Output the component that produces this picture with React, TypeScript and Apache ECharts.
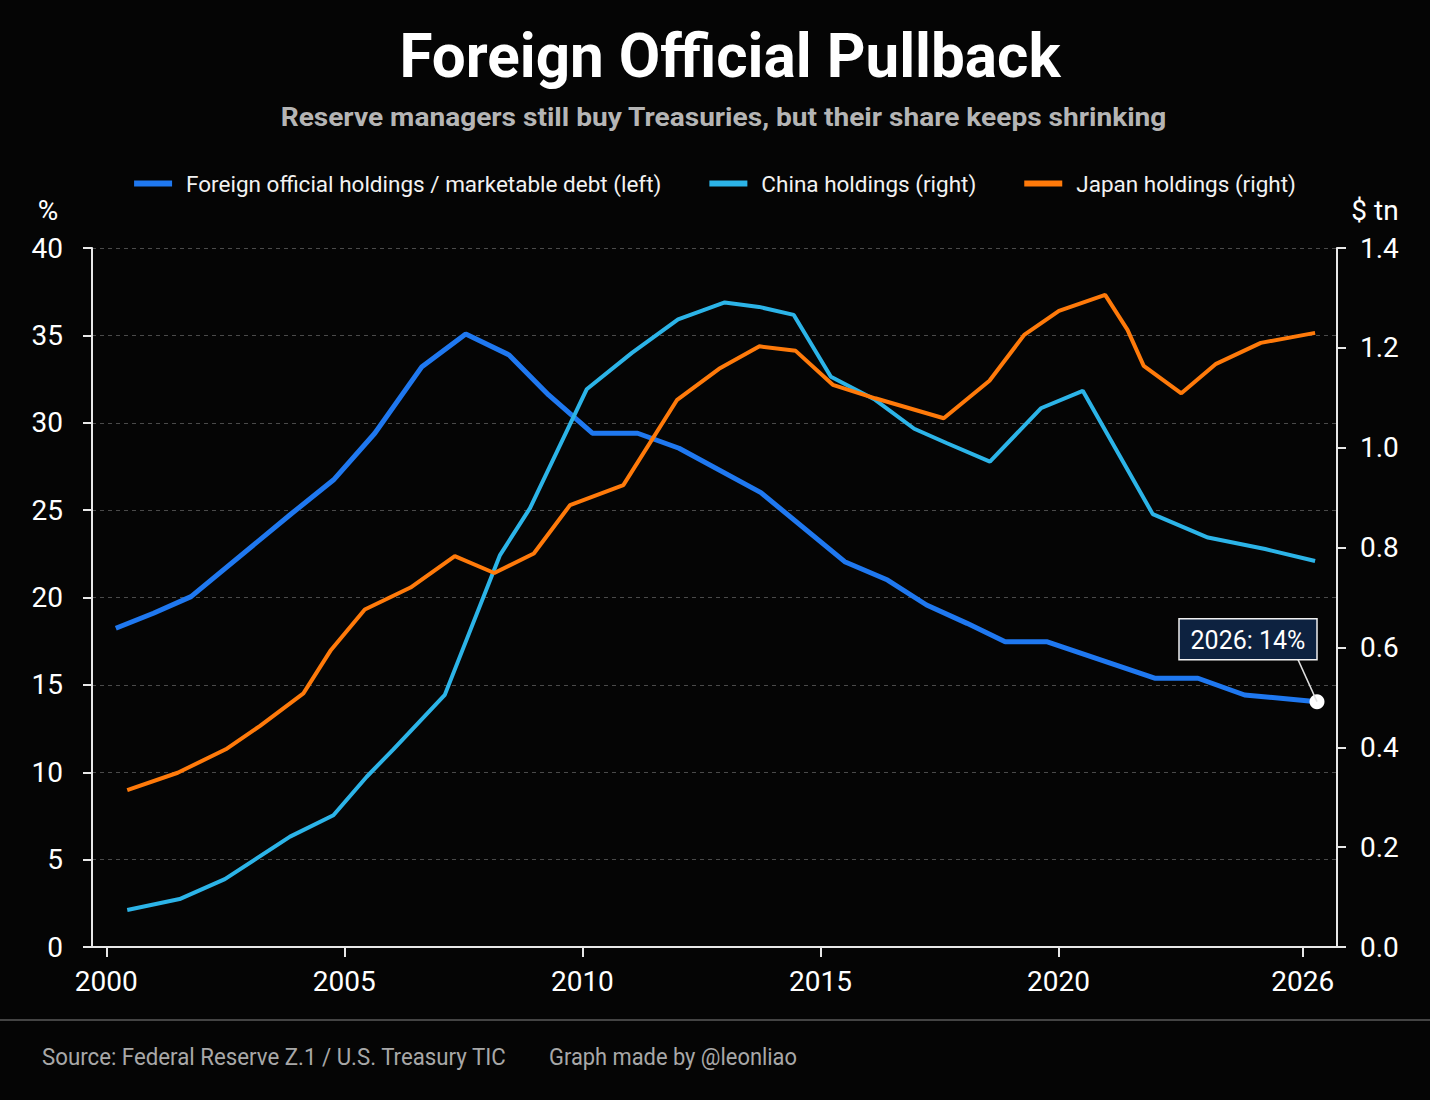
import { useEffect, useRef } from 'react';
import * as echarts from 'echarts';

const FONT = 'Roboto, "Noto Sans", sans-serif';

// Foreign official holdings / marketable debt, % (left axis)
const shareYears = [
  2000.2, 2000.99, 2001.78, 2003.9, 2004.77, 2005.64, 2006.63, 2007.55, 2008.46, 2009.29,
  2010.21, 2011.16, 2012.03, 2013.75, 2015.51, 2016.41, 2017.23, 2018.08, 2018.88, 2019.75,
  2022.02, 2022.93, 2023.91, 2025.43,
];
const shareValues = [
  18.24, 19.1, 20.05, 24.82, 26.72, 29.4, 33.21, 35.08, 33.88, 31.59,
  29.4, 29.4, 28.54, 26.0, 22.05, 21.0, 19.57, 18.52, 17.47, 17.47,
  15.38, 15.38, 14.42, 14.04,
];

// China holdings, $ tn (right axis)
const chinaYears = [
  2000.44, 2001.54, 2002.49, 2003.86, 2004.77, 2005.47, 2006.03, 2007.11, 2008.27, 2008.9,
  2010.09, 2011.04, 2012.01, 2012.99, 2013.71, 2014.44, 2015.22, 2016.15, 2016.97, 2017.66,
  2018.56, 2019.63, 2020.51, 2021.98, 2023.14, 2024.34, 2025.39,
];
const chinaValues = [
  0.074, 0.096, 0.136, 0.221, 0.264, 0.341, 0.396, 0.505, 0.785, 0.879,
  1.117, 1.19, 1.257, 1.291, 1.282, 1.266, 1.142, 1.096, 1.038, 1.009,
  0.972, 1.079, 1.114, 0.867, 0.82, 0.797, 0.773,
];

// Japan holdings, $ tn (right axis)
const japanYears = [
  2000.44, 2001.5, 2002.51, 2003.23, 2004.14, 2004.72, 2005.43, 2006.39, 2007.32, 2008.15,
  2008.98, 2009.74, 2010.86, 2011.99, 2012.87, 2013.72, 2014.48, 2015.26, 2016.15, 2017.59,
  2018.55, 2019.28, 2020.01, 2020.98, 2021.45, 2021.79, 2022.58, 2023.31, 2024.25, 2025.39,
];
const japanValues = [
  0.314, 0.349, 0.396, 0.443, 0.508, 0.595, 0.676, 0.72, 0.783, 0.749,
  0.788, 0.885, 0.925, 1.096, 1.158, 1.203, 1.194, 1.126, 1.099, 1.059,
  1.134, 1.226, 1.274, 1.306, 1.236, 1.164, 1.109, 1.168, 1.21, 1.23,
];

const xTickYears = [2000, 2005, 2010, 2015, 2020, 2025.13];
const xTickLabels = ['2000', '2005', '2010', '2015', '2020', '2026'];

const seriesNames = [
  'Foreign official holdings / marketable debt (left)',
  'China holdings (right)',
  'Japan holdings (right)',
];
const seriesColors = ['#1f78f0', '#2cb4e8', '#ff7a0a'];

const pairs = (xs: number[], ys: number[]) => xs.map((x, i) => [x, ys[i]]);

// horizontal squeeze so a text fills the width it has in the reference
function fitScale(text: string, font: string, target: number) {
  const ctx = document.createElement('canvas').getContext('2d');
  if (!ctx) return 1;
  ctx.font = font;
  const w = ctx.measureText(text).width;
  return w > 0 ? target / w : 1;
}

export default function App() {
  const chartRef = useRef<HTMLDivElement>(null);

  useEffect(() => {
    document.body.style.margin = '0';
    document.body.style.background = '#050505';
    if (!chartRef.current) return;
    const chart = echarts.init(chartRef.current, null, { renderer: 'svg' });

    const lastX = shareYears[shareYears.length - 1];
    const lastY = shareValues[shareValues.length - 1];

    const option: echarts.EChartsOption = {
      animation: false,
      backgroundColor: '#050505',
      textStyle: { fontFamily: FONT },
      legend: {
        top: 167,
        left: 'center',
        itemWidth: 38,
        itemHeight: 6,
        itemGap: 48,
        icon: 'rect',
        textStyle: { color: '#f2f2f2', fontSize: 22.5, fontFamily: FONT, padding: [0, 0, 0, 9] },
        data: seriesNames,
      },
      grid: { left: 92, right: 93, top: 248, bottom: 153, containLabel: false },
      xAxis: {
        type: 'value',
        min: 1999.7,
        max: 2025.85,
        axisLine: { show: true, lineStyle: { color: '#e8e8e8', width: 2 } },
        axisTick: { show: true, length: 10, customValues: xTickYears, lineStyle: { color: '#e8e8e8', width: 2 } },
        axisLabel: {
          customValues: xTickYears,
          color: '#ffffff',
          fontSize: 28,
          margin: 20,
          fontFamily: FONT,
          formatter: (v: number) => {
            const i = xTickYears.findIndex((t) => Math.abs(t - v) < 0.01);
            return i >= 0 ? xTickLabels[i] : '';
          },
        },
        splitLine: { show: false },
      },
      yAxis: [
        {
          type: 'value',
          min: 0,
          max: 40,
          interval: 5,
          position: 'left',
          axisLine: { show: true, lineStyle: { color: '#e8e8e8', width: 2 } },
          axisTick: { show: true, length: 9, lineStyle: { color: '#e8e8e8', width: 2 } },
          axisLabel: { color: '#ffffff', fontSize: 28, margin: 29, fontFamily: FONT },
          splitLine: { show: true, lineStyle: { color: '#4a4a4a', type: [4, 4], width: 1 } },
        },
        {
          type: 'value',
          min: 0,
          max: 1.4,
          interval: 0.2,
          position: 'right',
          axisLine: { show: true, lineStyle: { color: '#e8e8e8', width: 2 } },
          axisTick: { show: true, length: 9, lineStyle: { color: '#e8e8e8', width: 2 } },
          axisLabel: {
            color: '#ffffff',
            fontSize: 28,
            margin: 23,
            fontFamily: FONT,
            formatter: (v: number) => v.toFixed(1),
          },
          splitLine: { show: false },
        },
      ],
      series: [
        {
          name: seriesNames[0],
          type: 'line',
          yAxisIndex: 0,
          data: pairs(shareYears, shareValues),
          showSymbol: false,
          color: seriesColors[0],
          lineStyle: { width: 5, color: seriesColors[0] },
          z: 2,
          markPoint: {
            symbol: 'circle',
            symbolSize: 15,
            itemStyle: { color: '#ffffff' },
            label: { show: false },
            data: [{ coord: [lastX, lastY] }],
            z: 10,
          },
        },
        {
          name: seriesNames[1],
          type: 'line',
          yAxisIndex: 1,
          data: pairs(chinaYears, chinaValues),
          showSymbol: false,
          color: seriesColors[1],
          lineStyle: { width: 4, color: seriesColors[1] },
          z: 3,
        },
        {
          name: seriesNames[2],
          type: 'line',
          yAxisIndex: 1,
          data: pairs(japanYears, japanValues),
          showSymbol: false,
          color: seriesColors[2],
          lineStyle: { width: 4, color: seriesColors[2] },
          z: 4,
        },
      ],
    };

    chart.setOption(option);

    const titleText = 'Foreign Official Pullback';
    const subText = 'Reserve managers still buy Treasuries, but their share keeps shrinking';
    const srcText = 'Source: Federal Reserve Z.1 / U.S. Treasury TIC';
    const byText = 'Graph made by @leonliao';

    // callout box next to the last point
    const [px, py] = chart.convertToPixel({ seriesIndex: 0 }, [lastX, lastY]) as number[];
    const boxW = 138;
    const boxH = 41;
    const boxX = px - boxW;
    const boxY = py - 83;

    chart.setOption({
      graphic: [
        {
          type: 'text',
          x: 730,
          y: 56,
          scaleX: fitScale(titleText, 'bold 62px Roboto', 661),
          style: {
            text: titleText,
            fill: '#ffffff',
            fontSize: 62,
            fontWeight: 'bold',
            fontFamily: FONT,
            align: 'center',
            verticalAlign: 'middle',
          },
        },
        {
          type: 'text',
          x: 723.5,
          y: 117,
          scaleX: fitScale(subText, 'bold 26px Roboto', 887),
          style: {
            text: subText,
            fill: '#b5b5b5',
            fontSize: 26,
            fontWeight: 'bold',
            fontFamily: FONT,
            align: 'center',
            verticalAlign: 'middle',
          },
        },
        {
          type: 'line',
          shape: { x1: px - 19, y1: boxY + boxH, x2: px, y2: py },
          style: { stroke: '#e0e0e0', lineWidth: 1.5 },
          z: 20,
        },
        {
          type: 'rect',
          shape: { x: boxX, y: boxY, width: boxW, height: boxH },
          style: { fill: '#0d2240', stroke: '#f0f0f0', lineWidth: 1.5 },
          z: 21,
        },
        {
          type: 'text',
          x: boxX + boxW / 2,
          y: boxY + boxH / 2 + 1,
          style: {
            text: '2026: 14%',
            fill: '#ffffff',
            fontSize: 25,
            fontFamily: FONT,
            align: 'center',
            verticalAlign: 'middle',
          },
          z: 22,
        },
        {
          type: 'text',
          x: 48,
          y: 210,
          style: { text: '%', fill: '#ffffff', fontSize: 28, fontFamily: FONT, align: 'center', verticalAlign: 'middle' },
        },
        {
          type: 'text',
          x: 1375,
          y: 210,
          style: { text: '$ tn', fill: '#ffffff', fontSize: 28, fontFamily: FONT, align: 'center', verticalAlign: 'middle' },
        },
        {
          type: 'line',
          shape: { x1: 0, y1: 1020, x2: 1430, y2: 1020 },
          style: { stroke: '#5a5a5a', lineWidth: 1.5 },
        },
        {
          type: 'text',
          x: 42,
          y: 1057,
          scaleX: fitScale(srcText, '23px Roboto', 465),
          style: { text: srcText, fill: '#a8a8a8', fontSize: 23, fontFamily: FONT, verticalAlign: 'middle' },
        },
        {
          type: 'text',
          x: 549,
          y: 1057,
          scaleX: fitScale(byText, '23px Roboto', 248),
          style: { text: byText, fill: '#a8a8a8', fontSize: 23, fontFamily: FONT, verticalAlign: 'middle' },
        },
      ],
    });

    return () => {
      chart.dispose();
    };
  }, []);

  return <div ref={chartRef} style={{ width: 1430, height: 1100 }} />;
}
